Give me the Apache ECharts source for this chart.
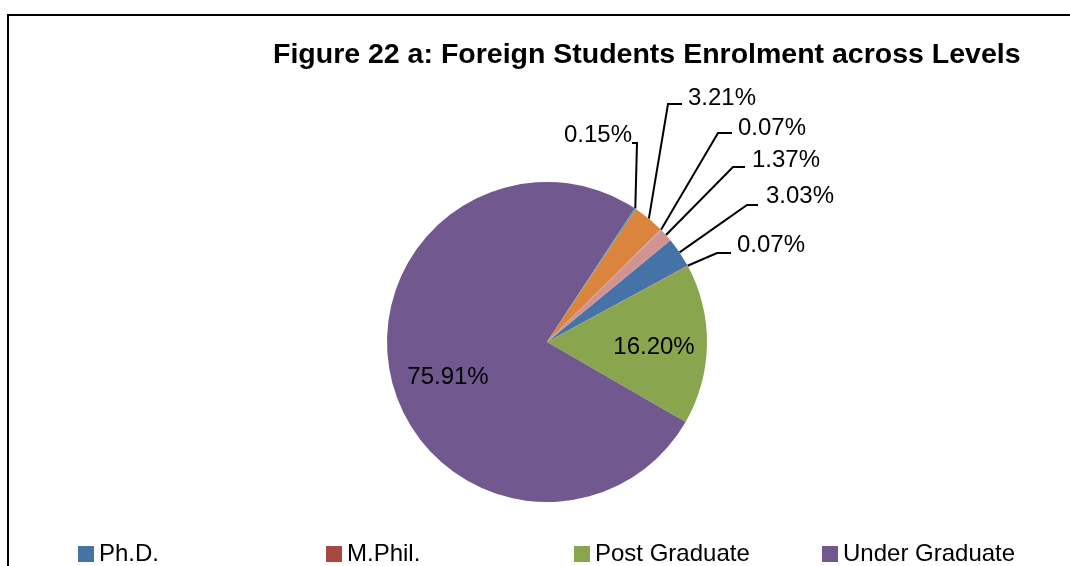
<!DOCTYPE html>
<html>
<head>
<meta charset="utf-8">
<script src="https://cdn.jsdelivr.net/npm/echarts@6/dist/echarts.min.js"></script>
<style>
    html, body { margin: 0; padding: 0; background: #fff; }
    #chart { width: 1070px; height: 566px; }
</style>
</head>
<body>
<div id="chart"></div>
<script>
    // levels, in the order Excel listed them (legend order)
    var levels = ['Ph.D.', 'M.Phil.', 'Post Graduate', 'Under Graduate', 'PG Diploma', 'Diploma', 'Certificate', 'Integrated'];
    var shares = [3.03, 0.07, 16.20, 75.91, 0.15, 3.21, 0.07, 1.37];
    var colors = ['#4572A7', '#AA4643', '#89A54E', '#71588F', '#4198AF', '#DB843D', '#93A9CF', '#D19392'];

    // where each label sits: [x, y, align, kneeX, kneeY, endX]
    var spots = [
        [766, 196, 'left', 747, 205, 758],
        [737, 245, 'left', 717, 253, 731],
        [654, 347, 'center'],
        [448, 377, 'center'],
        [632, 135, 'right', 637, 143, 632],
        [688, 98, 'left', 668, 104, 682],
        [738, 128, 'left', 718, 133, 732],
        [752, 160, 'left', 733, 167, 745]
    ];

    var chart = echarts.init(document.getElementById('chart'));

    var pieData = levels.map(function (name, i) {
        var item = {name: name, value: shares[i], itemStyle: {color: colors[i]}};
        if (i === 2 || i === 3) {
            item.label = {position: 'inside'};
            item.labelLine = {show: false};
        }
        return item;
    });

    // Excel lays the legend out on a fixed grid, four per row
    var legends = levels.map(function (name, i) {
        return {
            data: [name],
            left: 78 + (i % 4) * 248,
            top: 539 + Math.floor(i / 4) * 40,
            padding: [3, 0, 0, 0],
            itemWidth: 16,
            itemHeight: 16,
            itemGap: 0,
            icon: 'rect',
            textStyle: {
                fontFamily: 'Liberation Sans',
                fontSize: 24,
                color: '#000'
            }
        };
    });

    var option = {
        backgroundColor: '#fff',
        animation: false,
        title: {
            text: 'Figure 22 a: Foreign Students Enrolment across Levels',
            left: 268,
            top: 36,
            textStyle: {
                fontFamily: 'Liberation Sans',
                fontWeight: 'bold',
                fontSize: 28.5,
                color: '#000'
            }
        },
        legend: legends,
        graphic: [{
            type: 'rect',
            shape: {x: 8, y: 15, width: 1100, height: 600},
            style: {fill: 'none', stroke: '#000', lineWidth: 2}
        }],
        series: [{
            type: 'pie',
            center: [547, 342],
            radius: 160,
            startAngle: 39.5,
            clockwise: true,
            avoidLabelOverlap: false,
            label: {
                position: 'outside',
                fontFamily: 'Liberation Sans',
                fontSize: 24,
                color: '#000',
                formatter: function (p) {
                    return p.value.toFixed(2) + '%';
                }
            },
            labelLine: {
                show: true,
                lineStyle: {color: '#000', width: 2}
            },
            labelLayout: function (params) {
                var s = spots[params.dataIndex];
                var out = {x: s[0], y: s[1], align: s[2], verticalAlign: 'middle'};
                if (s.length > 3 && params.labelLinePoints) {
                    var a = params.labelLinePoints[0];
                    out.labelLinePoints = [[a[0], a[1]], [s[3], s[4]], [s[5], s[4]]];
                }
                return out;
            },
            itemStyle: {borderWidth: 0},
            emphasis: {disabled: true},
            data: pieData
        }]
    };
    chart.setOption(option);
</script>
</body>
</html>
